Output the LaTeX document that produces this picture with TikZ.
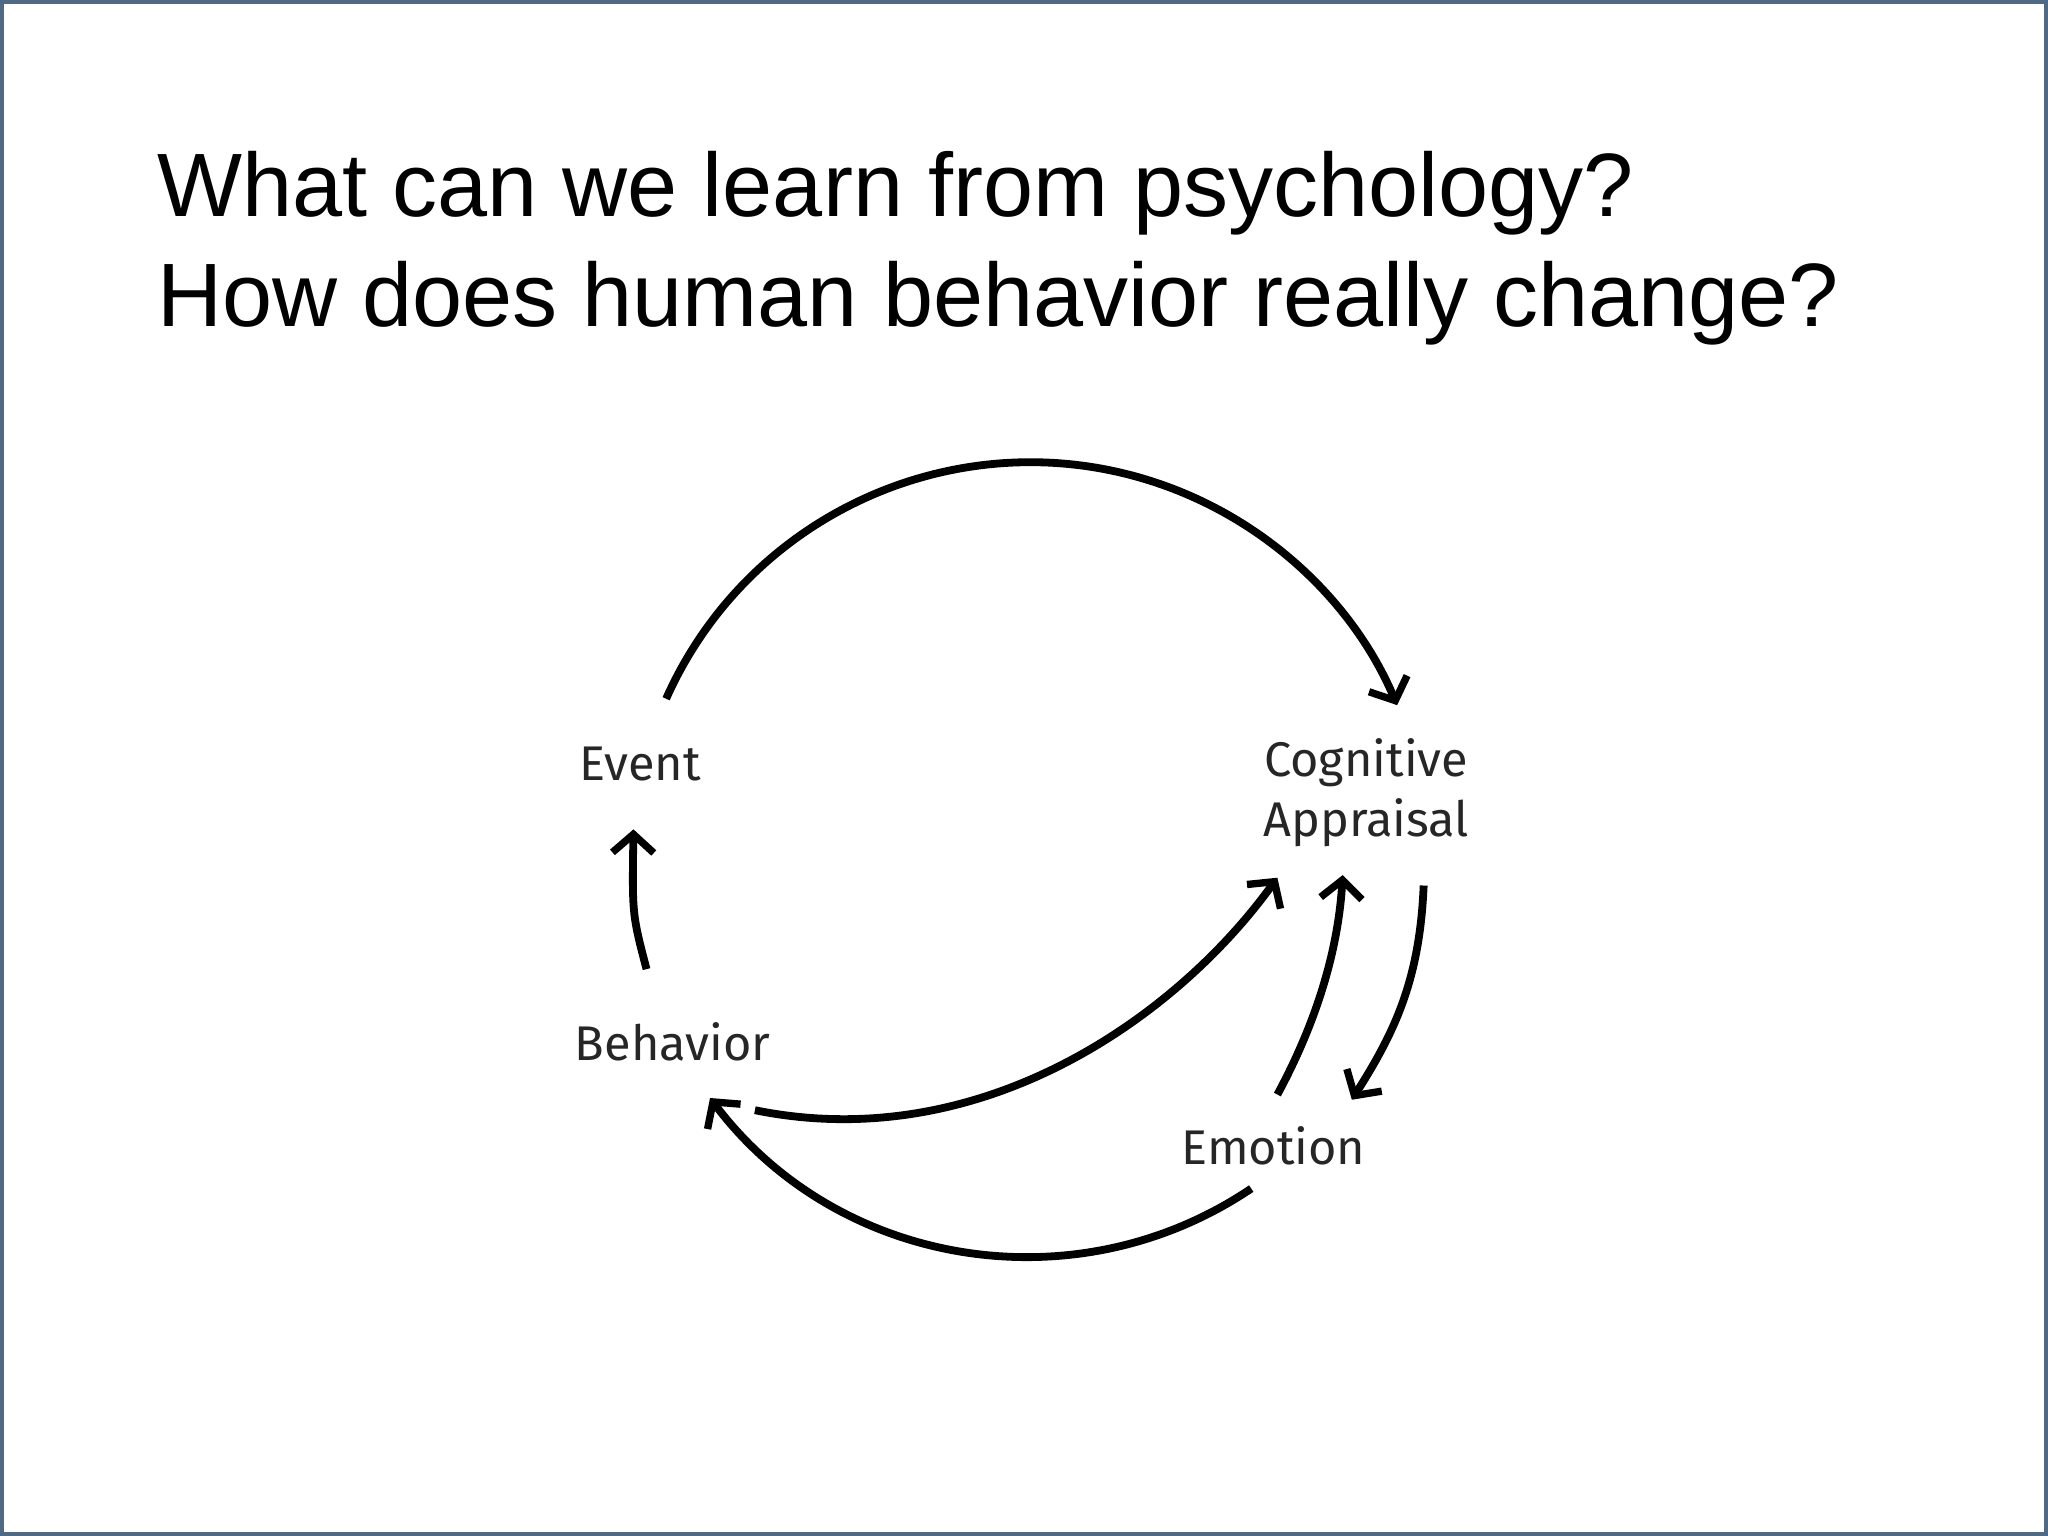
\documentclass[tikz,border=0pt]{standalone}
\usepackage{fontspec}
\setmainfont{Liberation Sans}
\newfontfamily\labfont{Fira Sans}
\usetikzlibrary{arrows.meta}
\definecolor{frame}{RGB}{80,105,135}
\begin{document}
\begin{tikzpicture}[x=0.01cm,y=-0.01cm,
  conn/.style={line width=1.7pt,-{Straight Barb[length=4pt,width=9pt,line width=1.6pt]}},
  lab/.style={font=\labfont\fontsize{10.6}{13.2}\selectfont,text=black!85,align=center,inner sep=0pt}]
\useasboundingbox (0,0) rectangle (1568,1176);
\draw[color=frame,line width=1pt] (1,1) rectangle (1567,1175);
\node[anchor=base west,inner sep=0pt,font=\fontsize{19.6}{23.3}\selectfont] (t1) at (120,166) {What can we learn from psychology?};
\node[anchor=base west,inner sep=0pt,font=\fontsize{19.6}{23.3}\selectfont] (t2) at (120,250) {How does human behavior really change?};
\node[lab] (event) at (490,585) {Event};
\node[lab] (appr) at (1046,607) {Cognitive\\Appraisal};
\node[lab] (beh) at (515,798) {Behavior};
\node[lab] (emo) at (975,877) {Emotion};
\coordinate (a1) at (510,535);
\coordinate (b1) at (958,910);
\coordinate (be) at (495,742);
\coordinate (ev) at (485,635);
\draw[conn] (a1) arc[start angle=156,end angle=23,radius=3.05cm];
\draw[conn] (b1) arc[start angle=-56,end angle=-143,radius=3.05cm];
\draw[conn] (be) .. controls (484,700) .. (ev);
\draw[conn] (578,850) .. controls (750,885) and (900,780) .. (978,672);
\draw[conn] (978,838) .. controls (1012,775) and (1025,720) .. (1028,670);
\draw[conn] (1090,678) .. controls (1087,750) and (1068,790) .. (1035,842);
\end{tikzpicture}
\end{document}
